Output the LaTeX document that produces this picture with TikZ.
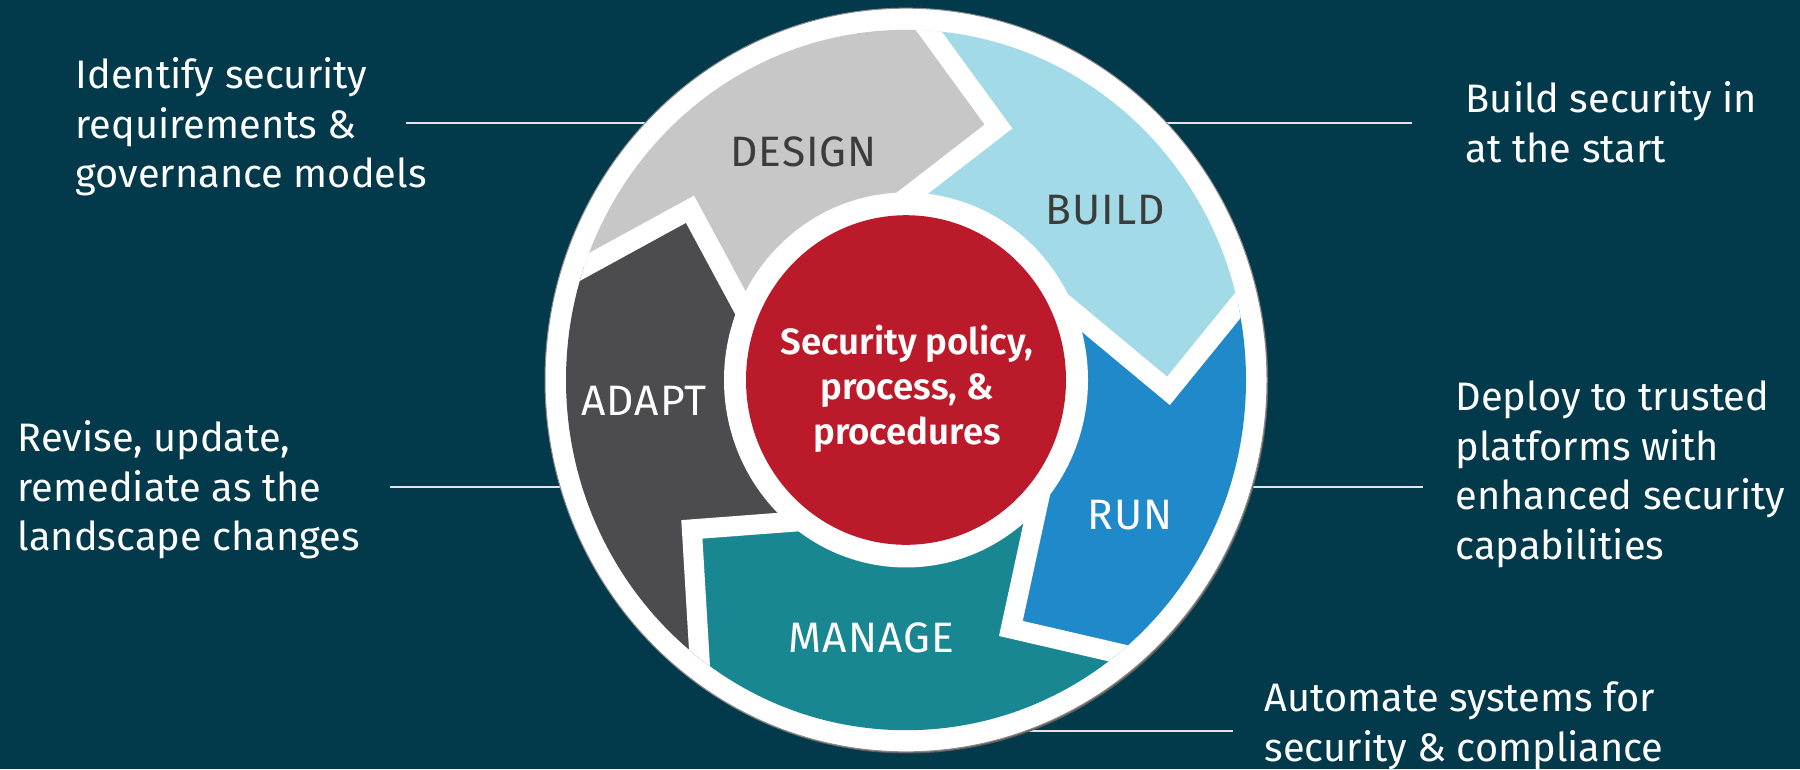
\documentclass[tikz,border=0pt]{standalone}
\usepackage{fontspec}
\setmainfont{Fira Sans}[BoldFont={Fira Sans SemiBold}]
\newfontfamily\lblfont[LetterSpace=2.5]{Fira Sans}
\usetikzlibrary{calc}
\definecolor{bg}{HTML}{023A4B}
\definecolor{cDesign}{HTML}{C7C7C7}
\definecolor{cBuild}{HTML}{A3DAE8}
\definecolor{cRun}{HTML}{2089CA}
\definecolor{cManage}{HTML}{188792}
\definecolor{cAdapt}{HTML}{4C4C4E}
\definecolor{cRed}{HTML}{BB1A2A}
\definecolor{lblDark}{HTML}{3C3C3C}
\definecolor{lineclr}{HTML}{E2E6E8}
\definecolor{ringgray}{HTML}{8A8A8A}
\definecolor{shadowgray}{HTML}{5E5E5E}
\tikzset{
  sidetext/.style={text=white, anchor=base west, align=left, inner sep=0pt,
    font=\fontsize{11.3pt}{14.1pt}\selectfont},
  seglabel/.style={anchor=base, inner sep=0pt,
    font=\lblfont\fontsize{12.1pt}{14pt}\selectfont},
  centertext/.style={text=white, anchor=base, align=center, inner sep=0pt,
    font=\bfseries\fontsize{10.4pt}{12.66pt}\selectfont},
  conn/.style={draw=lineclr, line width=0.016cm},
  gap/.style={draw=white, line width=0.2cm, line join=miter},
}
\begin{document}
\begin{tikzpicture}[x=0.01cm,y=-0.01cm]
\fill[bg] (0,0) rectangle (1800,769);
\useasboundingbox (0,0) rectangle (1800,769);

% connectors
\coordinate (c1a) at (406,123);  \coordinate (c1b) at (648,123);
\coordinate (c2a) at (1164,123); \coordinate (c2b) at (1412,123);
\coordinate (c3a) at (390,487);  \coordinate (c3b) at (563,487);
\coordinate (c4a) at (1249,487); \coordinate (c4b) at (1423,487);
\coordinate (c5a) at (1022,731); \coordinate (c5b) at (1233,731);
\draw[conn] (c1a) -- (c1b);
\draw[conn] (c2a) -- (c2b);
\draw[conn] (c3a) -- (c3b);
\draw[conn] (c4a) -- (c4b);
\draw[conn] (c5a) -- (c5b);

\begin{scope}[shift={(906,380)}, yscale=-1.03]
  \fill[shadowgray] (1.2,-1.6) circle (361);
  \filldraw[fill=white, draw=ringgray, line width=0.01cm] (0,0) circle (361);
  % chevron boundaries: outer, tip, inner
  \coordinate (b1o) at (161.2:340); \coordinate (b1t) at (142.5:272.3); \coordinate (b1i) at (155.6:182);
  \coordinate (b2o) at (86.2:340);  \coordinate (b2t) at (69.4:262.9);  \coordinate (b2i) at (87.8:182);
  \coordinate (b3o) at (12.35:340); \coordinate (b3t) at (-2.3:262.7);  \coordinate (b3i) at (20.5:182);
  \coordinate (b4o) at (-51.3:340); \coordinate (b4t) at (-66.5:263);   \coordinate (b4i) at (-44.25:182);
  \coordinate (b5o) at (232.6:340); \coordinate (b5t) at (214.1:258.6); \coordinate (b5i) at (229.3:182);
  \foreach \k in {1,...,5}{
    \coordinate (b\k of) at ($(b\k t)!2.2!(b\k o)$);
    \coordinate (b\k if) at ($(b\k t)!1.6!(b\k i)$);
  }
  \begin{scope}
    \clip (0,0) circle (340);
    \fill[cDesign] (b1t) -- (b1of) -- (123.7:560) -- (b2of) -- (b2t) -- (b2if) -- (0,0) -- (b1if) -- cycle;
    \fill[cBuild]  (b2t) -- (b2of) -- (49.3:560) -- (b3of) -- (b3t) -- (b3if) -- (0,0) -- (b2if) -- cycle;
    \fill[cRun]    (b3t) -- (b3of) -- (-19.5:560) -- (b4of) -- (b4t) -- (b4if) -- (0,0) -- (b3if) -- cycle;
    \fill[cManage] (b4t) -- (b4of) -- (-89.4:560) -- (b5of) -- (b5t) -- (b5if) -- (0,0) -- (b4if) -- cycle;
    \fill[cAdapt]  (b5t) -- (b5of) -- (196.9:560) -- (b1of) -- (b1t) -- (b1if) -- (0,0) -- (b5if) -- cycle;
    \foreach \k in {1,...,5}{
      \draw[gap] (b\k of) -- (b\k t) -- (b\k if);
    }
  \end{scope}
  \fill[white] (0,0) circle (182);
  \fill[cRed] (0,0) circle (160);
\end{scope}

% segment labels
\node[seglabel, text=lblDark] (design) at (803.5,166.7) {DESIGN};
\node[seglabel, text=lblDark] (build) at (1105,224) {BUILD};
\node[seglabel, text=white] (adapt) at (644,415.7) {ADAPT};
\node[seglabel, text=white] (run) at (1130,529) {RUN};
\node[seglabel, text=white] (manage) at (871.5,652.3) {MANAGE};

% centre (anchor = baseline of the last line)
\node[centertext] (core) at (907,444) {Security policy,\\process, \&\\procedures};

% side texts (anchor = baseline of the last line)
\node[sidetext] (t1) at (75,187.7) {Identify security\\requirements \&\\governance models};
\node[sidetext] (t2) at (1465,162) {Build security in\\at the start};
\node[sidetext] (t3) at (17,550.7) {Revise, update,\\remediate as the\\landscape changes};
\node[sidetext] (t4) at (1455,559.3) {Deploy to trusted\\platforms with\\enhanced security\\capabilities};
\node[sidetext] (t5) at (1264,761.2) {Automate systems for\\security \& compliance};
\end{tikzpicture}
\end{document}
